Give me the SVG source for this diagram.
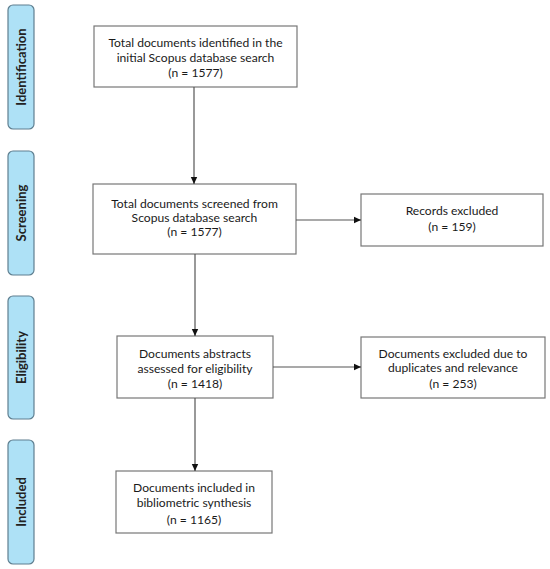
<svg xmlns="http://www.w3.org/2000/svg" width="550" height="569" viewBox="0 0 550 569">
<defs>
<marker id="ah" markerWidth="8" markerHeight="8" refX="7" refY="4" orient="auto" markerUnits="userSpaceOnUse">
<path d="M0,0.8 L7,4 L0,7.2 Z" fill="#111"/>
</marker>
<style>
.phase{fill:#aee1f6;stroke:#5f7f90;stroke-width:1.2}
.ptxt{font-family:Lato,"Liberation Sans",sans-serif;font-weight:bold;font-size:13px;fill:#222;text-anchor:middle;dominant-baseline:central}
.box{fill:#fff;stroke:#777;stroke-width:1.2}
.t{font-family:Lato,"Liberation Sans",sans-serif;font-size:12.1px;fill:#1a1a1a;text-anchor:middle;dominant-baseline:central}
.c{stroke:#555;stroke-width:1.2;fill:none;marker-end:url(#ah)}
</style>
</defs>
<rect width="550" height="569" fill="#fff"/>
<g id="phase-identification"><rect class="phase" x="8" y="5" width="26" height="124" rx="5"/><text class="ptxt" transform="translate(21,67) rotate(-90)">Identification</text></g>
<g id="phase-screening"><rect class="phase" x="8" y="151" width="26" height="124" rx="5"/><text class="ptxt" transform="translate(21,213) rotate(-90)">Screening</text></g>
<g id="phase-eligibility"><rect class="phase" x="8" y="296" width="26" height="123" rx="5"/><text class="ptxt" transform="translate(21,357.5) rotate(-90)">Eligibility</text></g>
<g id="phase-included"><rect class="phase" x="8" y="440" width="26" height="124" rx="5"/><text class="ptxt" transform="translate(21,502) rotate(-90)">Included</text></g>

<g id="node-identified"><rect class="box" x="94" y="26" width="203" height="61"/>
<text class="t" x="195.5" y="42">Total documents identified in the</text>
<text class="t" x="195.5" y="57">initial Scopus database search</text>
<text class="t" x="195.5" y="72">(n = 1577)</text></g>

<g id="node-screened"><rect class="box" x="93" y="184" width="203" height="70"/>
<text class="t" x="194.5" y="203">Total documents screened from</text>
<text class="t" x="194.5" y="217">Scopus database search</text>
<text class="t" x="194.5" y="231">(n = 1577)</text></g>

<g id="node-excluded1"><rect class="box" x="361" y="194" width="182" height="52"/>
<text class="t" x="452" y="210">Records excluded</text>
<text class="t" x="452" y="226">(n = 159)</text></g>

<g id="node-eligibility"><rect class="box" x="117" y="336" width="156" height="62"/>
<text class="t" x="195" y="353">Documents abstracts</text>
<text class="t" x="195" y="368">assessed for eligibility</text>
<text class="t" x="195" y="383">(n = 1418)</text></g>

<g id="node-excluded2"><rect class="box" x="361" y="337" width="184" height="61"/>
<text class="t" x="453" y="353">Documents excluded due to</text>
<text class="t" x="453" y="367">duplicates and relevance</text>
<text class="t" x="453" y="383">(n = 253)</text></g>

<g id="node-included"><rect class="box" x="116" y="471" width="156" height="62"/>
<text class="t" x="194" y="487">Documents included in</text>
<text class="t" x="194" y="502">bibliometric synthesis</text>
<text class="t" x="194" y="519">(n = 1165)</text></g>

<g id="connectors">
<line class="c" x1="194" y1="87" x2="194" y2="184"/>
<line class="c" x1="195" y1="254" x2="195" y2="336"/>
<line class="c" x1="296" y1="220" x2="361" y2="220"/>
<line class="c" x1="195" y1="398" x2="195" y2="471"/>
<line class="c" x1="273" y1="367" x2="361" y2="367"/>
</g>
</svg>
